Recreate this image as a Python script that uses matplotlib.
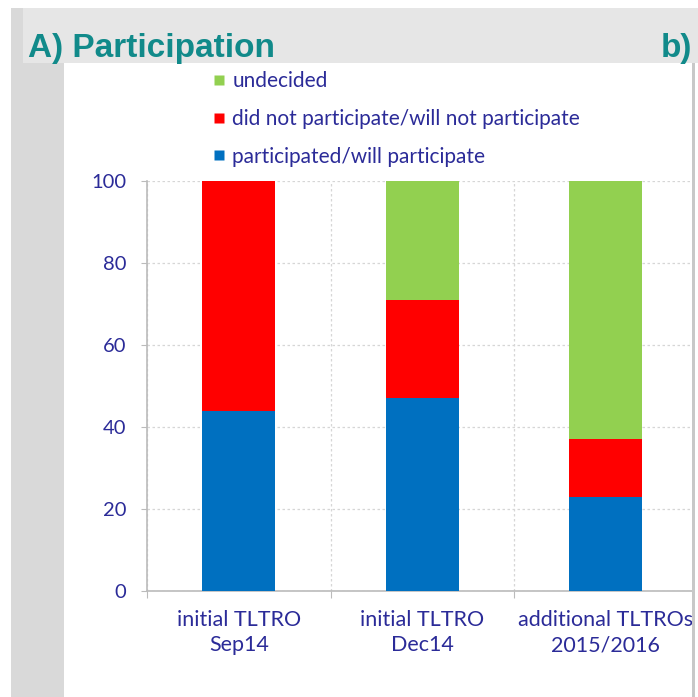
import matplotlib
matplotlib.use("Agg")
import matplotlib.pyplot as plt
from matplotlib.patches import Rectangle
from matplotlib.lines import Line2D
import numpy as np

# Data (percent of banks)
categories = ["initial TLTRO\nSep14", "initial TLTRO\nDec14", "additional TLTROs\n2015/2016"]
participated = [44, 47, 23]
not_participated = [56, 24, 14]
undecided = [0, 29, 63]
series_labels = ["participated/will participate",
                 "did not participate/will not participate",
                 "undecided"]
yticks = [0, 20, 40, 60, 80, 100]

W, H = 698, 697
text_col = "#2b2b98"
teal = "#118a8a"
colours = ["#0070c0", "#ff0000", "#92d050"]

plt.rcParams['font.family'] = ['Lato', 'DejaVu Sans']

fig = plt.figure(figsize=(W / 100, H / 100), dpi=100)
fig.patch.set_facecolor("white")


def box(x0, y0, x1, y1, color, z):
    # rectangle given in pixel coords from the top-left corner
    fig.patches.append(Rectangle((x0 / W, 1 - y1 / H), (x1 - x0) / W, (y1 - y0) / H,
                                 transform=fig.transFigure, facecolor=color,
                                 edgecolor="none", zorder=z))


# background panels
box(11, 8, 64, H, "#d9d9d9", -10)
box(23, 8, W, 63, "#e6e6e6", -9)
box(64, 63, 692, H, "white", -8)

# plot area
ax = fig.add_axes([147 / W, 1 - 591 / H, 550.5 / W, 410 / H])
ax.set_facecolor("white")
x = np.arange(len(categories)) + 0.5
bottom = np.zeros(len(categories))
for vals, col, lab in zip([participated, not_participated, undecided], colours, series_labels):
    ax.bar(x, vals, width=0.4, bottom=bottom, color=col, label=lab, zorder=3)
    bottom = bottom + np.array(vals)

ax.set_xlim(0, 3)
ax.set_ylim(0, 100)
ax.set_yticks(yticks)
ax.set_xticks([0, 1, 2, 3])
ax.set_xticklabels([])
ax.set_xticks(x, minor=True)
ax.set_xticklabels(categories, minor=True, fontsize=15.5, color=text_col, linespacing=1.3)
ax.tick_params(axis="x", which="minor", length=0, pad=14)
ax.tick_params(axis="x", which="major", length=5, color="#bbbbbb")
ax.tick_params(axis="y", length=4, color="#bbbbbb", labelsize=14.5, labelcolor=text_col, pad=11)
ax.grid(True, which="major", color="#d6d6d6", linestyle=(0, (2, 2)), linewidth=0.9, zorder=0)
for s in ["top", "right"]:
    ax.spines[s].set_visible(False)
for s in ["left", "bottom"]:
    ax.spines[s].set_color("#bbbbbb")
    ax.spines[s].set_linewidth(1.2)

# right border of the panel, cropping the chart
box(692, 63, 695, H, "#c8c8c8", 10)
box(695, 63, W, H, "white", 10)

# legend
handles = [Line2D([], [], marker="s", linestyle="none", markersize=7.5,
                  markerfacecolor=c, markeredgecolor="none") for c in colours[::-1]]
leg = fig.legend(handles, series_labels[::-1], loc="upper left",
                 bbox_to_anchor=(204 / W, 1 - 63 / H), frameon=False,
                 fontsize=15, labelcolor=text_col, labelspacing=0.85,
                 handlelength=0.6, handletextpad=0.35, borderaxespad=0)

# headings
fig.text(28 / W, 1 - 57 / H, "A) Participation", fontsize=24, fontweight="bold",
         color=teal, va="baseline", ha="left", family="Liberation Sans")
fig.text(692 / W, 1 - 57 / H, "b)", fontsize=24, fontweight="bold",
         color=teal, va="baseline", ha="right", family="Liberation Sans")

fig.savefig("out.png", dpi=100)
